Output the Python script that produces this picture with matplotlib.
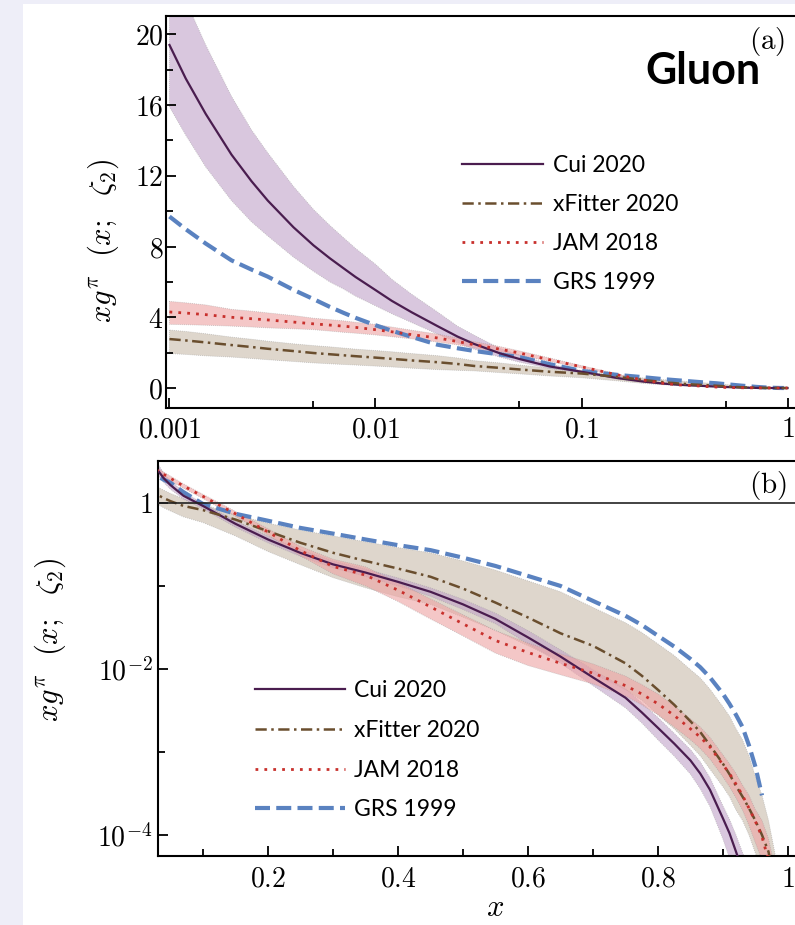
import numpy as np
import matplotlib
matplotlib.use("Agg")
import matplotlib.pyplot as plt
from matplotlib.ticker import FixedLocator, FixedFormatter, NullFormatter
from matplotlib.patches import Rectangle

plt.rcParams['mathtext.fontset'] = 'cm'
plt.rcParams['font.family'] = ['Lato', 'DejaVu Sans']

nan = np.nan
# ---------------- data ----------------
x = [0.001, 0.0012, 0.0015, 0.002, 0.0025, 0.003, 0.004, 0.005, 0.006, 0.007,
     0.008, 0.01, 0.012, 0.015, 0.02, 0.025, 0.03, 0.04, 0.05, 0.07,
     0.1, 0.15, 0.2, 0.25, 0.3, 0.35, 0.4, 0.45, 0.5, 0.55,
     0.6, 0.65, 0.7, 0.75, 0.775, 0.8, 0.825, 0.85, 0.865, 0.88,
     0.9, 0.91, 0.92, 0.93, 0.94, 0.95, 0.96, 0.97, 0.98, 1.0]

cui = [19.4, 17.5, 15.5, 13.2, 11.7, 10.6, 9.09, 8.07, 7.34, 6.77,
       6.28, 5.54, 4.93, 4.28, 3.5, 2.91, 2.5, 1.97, 1.64, 1.22,
       0.92, 0.56, 0.363, 0.25, 0.182, 0.145, 0.112, 0.085, 0.06, 0.04,
       0.024, 0.0141, 0.0079, 0.0045, 0.003, 0.00195, 0.00126, 0.00079, 0.00055, 0.00035,
       0.000158, 0.000105, 0.000063, 0.000037, 0.00002, 0.00001, 0, 0, 0, 0]
cui_lo = [15.9, 14.3, 12.5, 10.6, 9.4, 8.6, 7.4, 6.6, 6.0, 5.6,
          5.2, 4.65, 4.2, 3.7, 3.05, 2.56, 2.2, 1.75, 1.46, 1.11,
          0.85, 0.51, 0.33, 0.227, 0.165, 0.13, 0.1, 0.075, 0.052, 0.035,
          0.02, 0.0117, 0.0063, 0.0034, 0.00224, 0.0014, 0.00089, 0.00054, 0.00036, 0.00022,
          0.000089, 0.0000525, 0.000028, 0.0000148, 0.000005, 0.000002, 0, 0, 0, 0]
cui_hi = [24.2, 21.9, 19.4, 16.5, 14.6, 13.3, 11.4, 10.1, 9.2, 8.5,
          7.9, 7.0, 6.15, 5.3, 4.3, 3.5, 3.0, 2.25, 1.87, 1.35,
          0.99, 0.61, 0.40, 0.275, 0.2, 0.16, 0.125, 0.095, 0.069, 0.047,
          0.029, 0.017, 0.0098, 0.0058, 0.0039, 0.0026, 0.00168, 0.00107, 0.00076, 0.00049,
          0.000224, 0.000155, 0.0001, 0.0000617, 0.00004, 0.00002, 0, 0, 0, 0]

xfit = [2.77, 2.69, 2.58, 2.43, 2.32, 2.22, 2.09, 1.98, 1.91, 1.85,
        1.8, 1.72, 1.65, 1.56, 1.46, 1.36, 1.25, 1.14, 1.05, 0.92,
        0.82, 0.63, 0.457, 0.331, 0.251, 0.2, 0.162, 0.129, 0.093, 0.063,
        0.0417, 0.0269, 0.019, 0.0117, 0.0083, 0.0056, 0.0037, 0.00234, 0.00174, 0.0012,
        0.00072, 0.00054, 0.00039, 0.00029, 0.00021, 0.000148, 0.0001, 0.000063, 0.000025, 0]
xfit_lo = [1.95, 1.9, 1.82, 1.75, 1.67, 1.6, 1.5, 1.42, 1.37, 1.33,
           1.3, 1.24, 1.19, 1.12, 1.04, 1.0, 0.97, 0.87, 0.8, 0.68,
           0.58, 0.4, 0.26, 0.18, 0.126, 0.095, 0.074, 0.06, 0.042, 0.029,
           0.019, 0.0125, 0.0088, 0.0056, 0.0042, 0.0028, 0.0019, 0.0012, 0.0009, 0.00062,
           0.00038, 0.00029, 0.0002, 0.00015, 0.0001, 0.00006, 0.00004, 0.00002, 0.000007, 0]
xfit_hi = [3.28, 3.2, 3.07, 2.88, 2.76, 2.65, 2.5, 2.4, 2.33, 2.26,
           2.2, 2.12, 2.05, 1.95, 1.83, 1.7, 1.55, 1.42, 1.3, 1.12,
           0.96, 0.72, 0.57, 0.47, 0.4, 0.34, 0.29, 0.25, 0.2, 0.155,
           0.115, 0.085, 0.055, 0.036, 0.0275, 0.02, 0.0145, 0.0098, 0.0078, 0.0057,
           0.0035, 0.0027, 0.0019, 0.0014, 0.0009, 0.0005, 0.0003, 0.00015, 0.00006, 0]

jam = [4.3, 4.24, 4.15, 4.0, 3.92, 3.85, 3.73, 3.63, 3.56, 3.5,
       3.43, 3.3, 3.18, 3.02, 2.83, 2.63, 2.45, 2.2, 1.98, 1.6,
       1.2, 0.74, 0.447, 0.266, 0.172, 0.135, 0.089, 0.056, 0.035, 0.022,
       0.0158, 0.0117, 0.0089, 0.0063, 0.005, 0.0038, 0.00275, 0.0019, 0.00151, 0.00115,
       0.0007, 0.00055, 0.00041, 0.0003, 0.00021, 0.000145, 0.000095, 0.00005, 0.00002, 0]
jam_lo = [3.6, 3.58, 3.55, 3.5, 3.45, 3.4, 3.35, 3.3, 3.22, 3.15,
          3.1, 3.0, 2.9, 2.78, 2.6, 2.44, 2.27, 2.05, 1.85, 1.5,
          1.13, 0.69, 0.41, 0.23, 0.14, 0.1, 0.065, 0.04, 0.025, 0.0155,
          0.011, 0.0085, 0.0066, 0.0047, 0.0037, 0.0028, 0.002, 0.0014, 0.0011, 0.00082,
          0.0005, 0.00038, 0.00028, 0.0002, 0.00013, 0.00008, 0.00005, 0.00002, 0.000005, 0]
jam_hi = [4.9, 4.82, 4.7, 4.45, 4.35, 4.25, 4.1, 3.95, 3.87, 3.8,
          3.72, 3.6, 3.45, 3.27, 3.05, 2.83, 2.63, 2.35, 2.1, 1.7,
          1.27, 0.79, 0.49, 0.3, 0.21, 0.17, 0.11, 0.07, 0.045, 0.029,
          0.0205, 0.0152, 0.0115, 0.0082, 0.0065, 0.005, 0.0036, 0.0025, 0.002, 0.0015,
          0.00092, 0.00072, 0.00055, 0.0004, 0.0003, 0.0002, 0.00015, 0.00009, 0.00004, 0]

grs = [9.7, 8.98, 8.17, 7.22, 6.7, 6.3, 5.55, 5.03, 4.59, 4.25,
       3.97, 3.55, 3.24, 2.89, 2.45, 2.25, 2.1, 1.9, 1.75, 1.35,
       0.97, 0.74, 0.61, 0.5, 0.427, 0.363, 0.31, 0.27, 0.219, 0.174,
       0.132, 0.1, 0.066, 0.0437, 0.0339, 0.0251, 0.0186, 0.0132, 0.0105, 0.0079,
       0.005, 0.0038, 0.0028, 0.002, 0.0012, 0.00066, 0.0003, nan, nan, nan]

labels = ["Cui 2020", "xFitter 2020", "JAM 2018", "GRS 1999"]

# ---------------- styles ----------------
c_cui, b_cui = "#4a1d4f", "#c1a3c8"
c_xf, b_xf = "#6a4e2e", "#c8bbaa"
c_jam, b_jam = "#c8302c", "#eea3a3"
c_grs = "#5a82c0"

W, H = 795, 925
fig = plt.figure(figsize=(W / 100, H / 100), dpi=100)
fig.patch.set_facecolor("white")
lav = "#eeeef8"
fig.patches.append(Rectangle((0, 0), 23 / W, 1, transform=fig.transFigure,
                             facecolor=lav, edgecolor="none", zorder=-10))
fig.patches.append(Rectangle((0, 1 - 4 / H), 1, 4 / H, transform=fig.transFigure,
                             facecolor=lav, edgecolor="none", zorder=-10))


def arr(v, log=False):
    a = np.array(v, dtype=float)
    if log:
        a = np.where(a > 0, a, np.nan)
    return a


def draw(ax, log):
    X = np.array(x)
    for lo, hi, fc in [(xfit_lo, xfit_hi, b_xf), (cui_lo, cui_hi, b_cui),
                       (jam_lo, jam_hi, b_jam)]:
        ax.fill_between(X, arr(lo, log), arr(hi, log), facecolor=fc, alpha=0.6,
                        edgecolor="#9a9a9a", linewidth=0.6, linestyle=(0, (1, 1.5)),
                        zorder=1)
    hs = []
    hs += ax.plot(X, arr(cui, log), color=c_cui, lw=1.6, zorder=4)
    hs += ax.plot(X, arr(xfit, log), color=c_xf, lw=1.8,
                  dashes=(4.5, 1.8, 1.0, 1.8), zorder=4)
    hs += ax.plot(X, arr(jam, log), color=c_jam, lw=2.0, dashes=(1.0, 2.2), zorder=5)
    hs += ax.plot(X, arr(grs, log), color=c_grs, lw=3.0, dashes=(3.6, 1.5), zorder=3)
    return hs


def style(ax):
    ax.spines["right"].set_visible(False)
    for s in ["left", "bottom", "top"]:
        ax.spines[s].set_linewidth(1.5)
    ax.tick_params(which="both", direction="in", top=False, right=False,
                   labelsize=20, width=1.3)
    ax.tick_params(which="major", length=7)
    ax.tick_params(which="minor", length=5)


ylab = r"$xg^{\pi}\ \ (x;\ \ \zeta_2)$"

# ---------------- top panel ----------------
ax1 = fig.add_axes([166 / W, 1 - 408 / H, 1 - 166 / W, 392 / H])
ax1.set_xscale("log")
h1 = draw(ax1, False)
ax1.set_xlim(0.000962, 1.087)
ax1.set_ylim(-1.13, 21.04)
ax1.xaxis.set_major_locator(FixedLocator([1e-3, 1e-2, 1e-1, 1]))
ax1.xaxis.set_major_formatter(FixedFormatter([r"$0.001$", r"$0.01$", r"$0.1$", r"$1$"]))
ax1.xaxis.set_minor_locator(FixedLocator([5e-3, 5e-2, 5e-1]))
ax1.xaxis.set_minor_formatter(NullFormatter())
ax1.yaxis.set_major_locator(FixedLocator([0, 4, 8, 12, 16, 20]))
ax1.yaxis.set_major_formatter(FixedFormatter([r"$%d$" % v for v in [0, 4, 8, 12, 16, 20]]))
ax1.yaxis.set_minor_locator(FixedLocator([2, 6, 10, 14, 18]))
style(ax1)
ax1.tick_params(axis="x", pad=6)
ax1.tick_params(axis="y", pad=2)

ax1.legend(h1, labels, loc="upper left", bbox_to_anchor=(462 / W, 1 - 155 / H),
           bbox_transform=fig.transFigure, frameon=False, fontsize=16.5,
           handlelength=3.55, handletextpad=0.41, labelspacing=0.78, borderpad=0,
           borderaxespad=0)

fig.text(767 / W, 1 - 42 / H, r"$\mathrm{(a)}$", fontsize=21, ha="center", va="center")
fig.text(703 / W, 1 - 71 / H, "Gluon", fontsize=31, fontweight="bold",
         ha="center", va="center")
fig.text(103 / W, 1 - 241 / H, ylab, fontsize=22,
         rotation=90, ha="center", va="center")

# ---------------- bottom panel ----------------
ax2 = fig.add_axes([158 / W, 1 - 856 / H, 1 - 158 / W, 395 / H])
ax2.set_yscale("log")
h2 = draw(ax2, True)
ax2.axhline(1.0, color="#222222", lw=1.2, zorder=6)
ax2.set_xlim(0.0308, 1.0108)
ax2.set_ylim(5.58e-5, 3.2)
ax2.xaxis.set_major_locator(FixedLocator([0.2, 0.4, 0.6, 0.8, 1.0]))
ax2.xaxis.set_major_formatter(FixedFormatter([r"$0.2$", r"$0.4$", r"$0.6$", r"$0.8$", r"$1$"]))
ax2.xaxis.set_minor_locator(FixedLocator([0.1, 0.3, 0.5, 0.7, 0.9]))
ax2.xaxis.set_minor_formatter(NullFormatter())
ax2.yaxis.set_major_locator(FixedLocator([1e-4, 1e-2, 1]))
ax2.yaxis.set_major_formatter(FixedFormatter([r"$10^{-4}$", r"$10^{-2}$", r"$1$"]))
ax2.yaxis.set_minor_locator(FixedLocator([1e-3, 1e-1]))
ax2.yaxis.set_minor_formatter(NullFormatter())
style(ax2)
ax2.tick_params(axis="x", pad=7)
ax2.tick_params(axis="y", pad=4)

ax2.legend(h2, labels, loc="upper left", bbox_to_anchor=(255 / W, 1 - 680 / H),
           bbox_transform=fig.transFigure, frameon=False, fontsize=16.5,
           handlelength=3.93, handletextpad=0.37, labelspacing=0.82, borderpad=0,
           borderaxespad=0)

fig.text(768 / W, 1 - 485 / H, r"$\mathrm{(b)}$", fontsize=21, ha="center", va="center")
fig.text(50 / W, 1 - 640 / H, ylab, fontsize=22,
         rotation=90, ha="center", va="center")
fig.text(495 / W, 1 - 907 / H, r"$x$", fontsize=22, ha="center", va="center")

fig.savefig("out.png", dpi=100, facecolor="white")
